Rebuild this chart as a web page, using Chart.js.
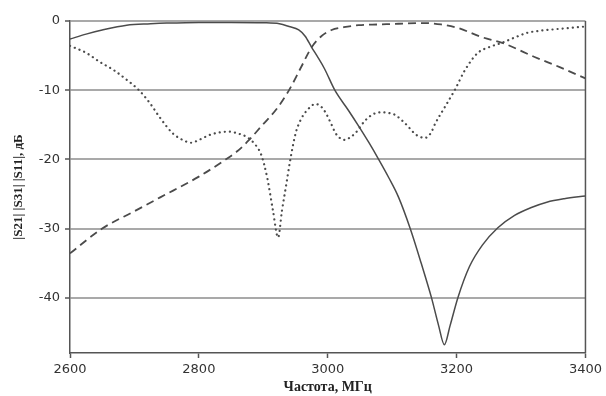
<!DOCTYPE html>
<html>
<head>
<meta charset="utf-8">
<script src="https://cdn.jsdelivr.net/npm/chart.js@4/dist/chart.umd.min.js"></script>
<style>
  html, body { margin: 0; padding: 0; background: #fff; }
  #wrap { width: 606px; height: 396px; }
</style>
</head>
<body>
<div id="wrap"><canvas id="c" width="606" height="396"></canvas></div>
<script>
// Frequency points (MHz) and transmission/reflection levels (dB)
const freqS21 = [2600, 2625, 2650, 2688, 2725, 2750, 2800, 2850, 2900, 2925, 2940, 2955, 2965, 2975, 2985, 2995, 3011, 3032, 3048, 3064, 3079, 3095, 3110, 3128, 3145, 3161, 3172, 3181, 3190, 3202, 3220, 3240, 3264, 3290, 3315, 3340, 3367, 3400];
const s21 = [-2.6, -1.9, -1.3, -0.6, -0.4, -0.3, -0.2, -0.2, -0.25, -0.4, -0.8, -1.3, -2.2, -3.8, -5.3, -6.9, -10, -12.9, -15.2, -17.6, -20, -22.7, -25.5, -30, -35, -40, -44, -46.8, -44, -40, -35.5, -32.4, -29.9, -28.1, -27.0, -26.2, -25.7, -25.3];

const freqS31 = [2600, 2650, 2700, 2740, 2800, 2842, 2860, 2878, 2898, 2920, 2940, 2958, 2975, 2990, 3006, 3025, 3048, 3080, 3110, 3150, 3176, 3202, 3238, 3272, 3321, 3361, 3400];
const s31 = [-33.6, -30, -27.5, -25.5, -22.5, -20, -18.8, -17.2, -15.1, -12.8, -10, -6.8, -3.8, -2.2, -1.3, -0.9, -0.6, -0.5, -0.4, -0.3, -0.5, -1.0, -2.3, -3.2, -5.2, -6.7, -8.3];

const freqS11 = [2600, 2608, 2625, 2646, 2668, 2688, 2707, 2725, 2739, 2759, 2775, 2788, 2800, 2816, 2832, 2847, 2862, 2873, 2885, 2897, 2906, 2915, 2923, 2929, 2935, 2942, 2950, 2958, 2968, 2981, 2990, 2997, 3005, 3012, 3020, 3027, 3035, 3043, 3058, 3070, 3083, 3095, 3105, 3120, 3138, 3151, 3160, 3167, 3182, 3197, 3213, 3233, 3250, 3269, 3290, 3310, 3330, 3352, 3375, 3400];
const s11 = [-3.6, -3.9, -4.6, -5.9, -7.1, -8.5, -10, -12, -13.9, -16.2, -17.2, -17.6, -17.2, -16.5, -16.1, -16.0, -16.3, -16.7, -17.6, -19.4, -22.6, -27.4, -31.3, -27.4, -24, -20, -16.3, -14.3, -12.9, -12.0, -12.4, -13.3, -14.8, -16.2, -17.0, -17.2, -16.8, -16.2, -14.4, -13.5, -13.2, -13.3, -13.6, -14.8, -16.5, -16.9, -16.2, -14.8, -12.4, -10, -7.1, -4.6, -3.8, -3.2, -2.4, -1.7, -1.4, -1.2, -1.0, -0.8];

const xTicks = [2600, 2800, 3000, 3200, 3400];
const yTicks = [0, -10, -20, -30, -40];

const xTitle = 'Частота, МГц';
const yTitle = '|S21| |S31| |S11|, дБ';

const toPoints = (xs, ys) => xs.map((x, i) => ({ x: x, y: ys[i] }));

const LINE = '#4b4b4b';
const AXIS = '#555555';
const GRID = '#a9a9a9';

// Right-hand frame line of the plot box
const frameRight = {
  id: 'frameRight',
  afterDraw(chart) {
    const { ctx, chartArea } = chart;
    ctx.save();
    ctx.strokeStyle = AXIS;
    ctx.lineWidth = 1.5;
    ctx.beginPath();
    ctx.moveTo(chartArea.right, chartArea.top);
    ctx.lineTo(chartArea.right, chartArea.bottom);
    ctx.stroke();
    ctx.restore();
  }
};

new Chart(document.getElementById('c'), {
  type: 'line',
  data: {
    datasets: [
      {
        label: '|S21|',
        data: toPoints(freqS21, s21),
        borderColor: LINE,
        borderWidth: 1.5,
        pointRadius: 0,
        cubicInterpolationMode: 'monotone'
      },
      {
        label: '|S31|',
        data: toPoints(freqS31, s31),
        borderColor: LINE,
        borderWidth: 1.8,
        borderDash: [8, 5],
        pointRadius: 0,
        cubicInterpolationMode: 'monotone'
      },
      {
        label: '|S11|',
        data: toPoints(freqS11, s11),
        borderColor: LINE,
        borderWidth: 2.2,
        borderDash: [0.1, 5],
        borderCapStyle: 'round',
        pointRadius: 0,
        cubicInterpolationMode: 'monotone'
      }
    ]
  },
  options: {
    responsive: false,
    animation: false,
    devicePixelRatio: 1,
    layout: { padding: { top: 21, right: 18, bottom: 0, left: 0 } },
    plugins: { legend: { display: false }, tooltip: { enabled: false } },
    scales: {
      x: {
        type: 'linear',
        min: 2600,
        max: 3400,
        afterBuildTicks: s => { s.ticks = xTicks.map(v => ({ value: v })); },
        afterFit: s => { s.height = 43; },
        border: { display: true, color: AXIS, width: 1.5 },
        grid: { drawOnChartArea: false, drawTicks: true, tickLength: 5, tickColor: AXIS, tickWidth: 1.5 },
        ticks: {
          color: '#333',
          font: { family: 'DejaVu Sans', size: 13 },
          padding: 4,
          maxRotation: 0,
          callback: v => String(v)
        },
        title: {
          display: true,
          text: xTitle,
          color: '#222',
          font: { family: 'Liberation Serif', size: 14, weight: 'bold' },
          padding: { top: 0, bottom: 0 }
        }
      },
      y: {
        type: 'linear',
        min: -48,
        max: 0,
        afterBuildTicks: s => { s.ticks = yTicks.map(v => ({ value: v })); },
        afterFit: s => { s.width = 70; },
        border: { display: true, color: AXIS, width: 1.5 },
        grid: { color: GRID, lineWidth: 2, drawTicks: true, tickLength: 5, tickColor: AXIS, tickWidth: 1.5 },
        ticks: {
          color: '#333',
          font: { family: 'DejaVu Sans', size: 13 },
          padding: 5,
          callback: v => String(v)
        },
        title: {
          display: true,
          text: yTitle,
          color: '#222',
          font: { family: 'Liberation Serif', size: 13, weight: 'bold' },
          padding: { top: 11, bottom: 0 }
        }
      }
    }
  },
  plugins: [frameRight]
});
</script>
</body>
</html>
